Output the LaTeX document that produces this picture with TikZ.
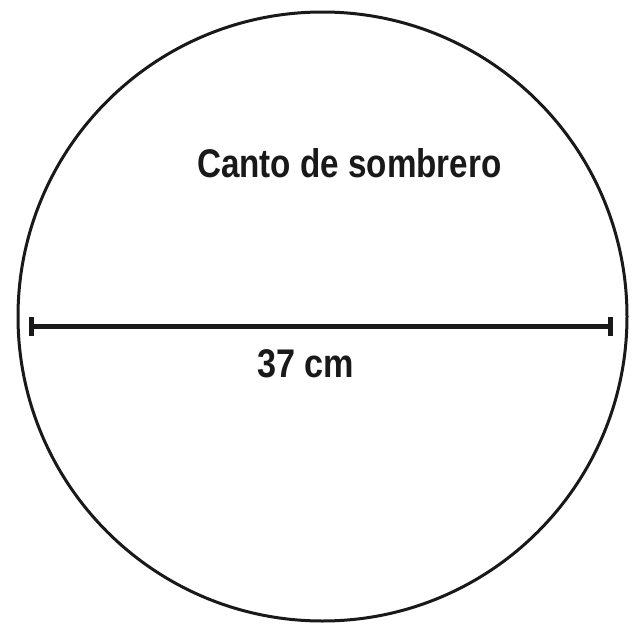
\documentclass[tikz,border=0pt]{standalone}
\usepackage{fontspec}
\setmainfont{Liberation Sans}
\begin{document}
\begin{tikzpicture}[x=1pt,y=-1pt,
  rim/.style={line width=3pt, draw=black!90},
  dimline/.style={line width=5pt, draw=black!90},
  lbl/.style={inner sep=0pt, anchor=base west, xscale=0.83, font=\fontsize{40}{48}\selectfont\bfseries, text=black!90}]
\useasboundingbox (0,0) rectangle (638,632);
\coordinate (c) at (322.5,316.5);
\draw[rim] (c) circle[radius=304.5pt];
\coordinate (l) at (31,326);
\coordinate (r) at (610,326);
\draw[dimline] (l) -- (r);
\draw[dimline] ([yshift=-9.5pt]l) -- ([yshift=9.5pt]l);
\draw[dimline] ([yshift=-9.5pt]r) -- ([yshift=9.5pt]r);
\node[lbl] (title) at (197,177) {Canto de sombrero};
\node[lbl, xscale=1.03] (dim) at (257,377) {37 cm};
\end{tikzpicture}
\end{document}
